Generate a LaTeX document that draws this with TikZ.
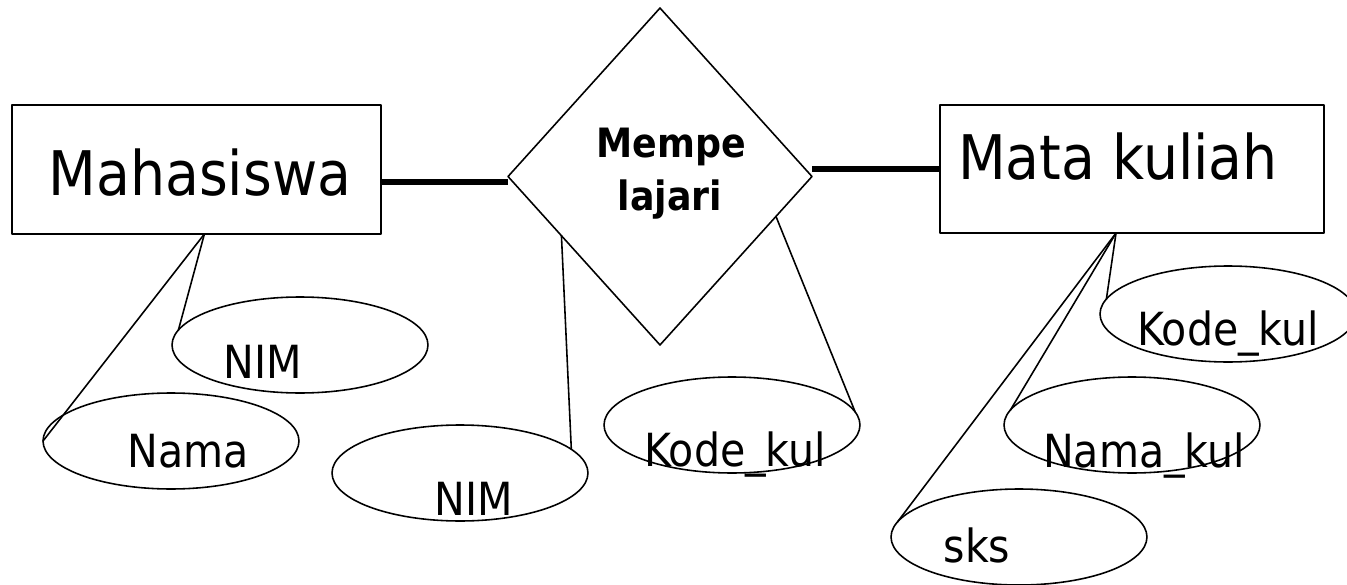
\documentclass[tikz,border=0pt]{standalone}
\usepackage{fontspec}
\setmainfont{DejaVu Sans Condensed}
\usetikzlibrary{shapes.geometric}

\begin{document}
\begin{tikzpicture}[x=0.02cm, y=-0.02cm, line cap=round, line join=round,
  entity/.style={draw, line width=0.9pt, inner sep=0pt, outer sep=0pt},
  attr/.style={draw, ellipse, line width=0.9pt, minimum width=5.12cm, minimum height=1.92cm, inner sep=0pt, outer sep=0pt},
  rel/.style={draw, diamond, line width=0.9pt, minimum width=6.08cm, minimum height=6.74cm, inner sep=0pt, outer sep=0pt},
  bigtext/.style={anchor=base, inner sep=0pt, font=\fontsize{35}{42}\selectfont},
  reltext/.style={anchor=base, inner sep=0pt, font=\bfseries\fontsize{23}{28}\selectfont},
  attrtext/.style={anchor=base, inner sep=0pt, font=\fontsize{26}{31}\selectfont},
  link/.style={line width=0.9pt},
  heavylink/.style={line width=3.4pt, line cap=butt}]
	\useasboundingbox (0,0) rectangle (1347,585);

	% entities and relation
	\node[entity, minimum width=7.38cm, minimum height=2.58cm] (mhs) at (196.5,169.5) {};
	\node[entity, minimum width=7.68cm, minimum height=2.56cm] (mk) at (1132,169) {};
	\node[rel] (rel) at (660,176.5) {};
	\node[bigtext] (mhs-t) at (200,195) {Mahasiswa};
	\node[bigtext] (mk-t) at (1118,179) {Mata kuliah};
	\node[reltext] (rel-t1) at (671,157) {Mempe};
	\node[reltext] (rel-t2) at (670,210) {lajari};

	\draw[heavylink] (mhs.-4.5) -- (mhs.-4.5 -| rel.west);
	\draw[heavylink] (mk.west) -- (mk.west -| rel.east);

	% attributes
	\node[attr] (nim1) at (300,345) {};
	\node[attr] (nama) at (171,441) {};
	\node[attr] (nim2) at (460,473) {};
	\node[attr] (kode1) at (732,425) {};
	\node[attr] (kode2) at (1228,314) {};
	\node[attr] (namakul) at (1132,425) {};
	\node[attr] (sks) at (1019,537) {};
	\node[attrtext] (nim1-t) at (263,378) {NIM};
	\node[attrtext] (nama-t) at (188,467) {Nama};
	\node[attrtext] (nim2-t) at (474,515) {NIM};
	\node[attrtext] (kode1-t) at (735,466) {Kode\_kul};
	\node[attrtext] (kode2-t) at (1228,345) {Kode\_kul};
	\node[attrtext] (namakul-t) at (1144,467) {Nama\_kul};
	\node[attrtext] (sks-t) at (977,562) {sks};

	\draw[link] (mhs.-83) -- (nama.west);
	\draw[link] (mhs.-83) -- (nim1.173);
	\draw[link] (rel.211) -- (nim2.12);
	\draw[link] (rel.-19) -- (kode1.6);
	\draw[link] (mk.-104) -- (kode2.173);
	\draw[link] (mk.-104) -- (namakul.173);
	\draw[link] (mk.-104) -- (sks.173);
\end{tikzpicture}
\end{document}
